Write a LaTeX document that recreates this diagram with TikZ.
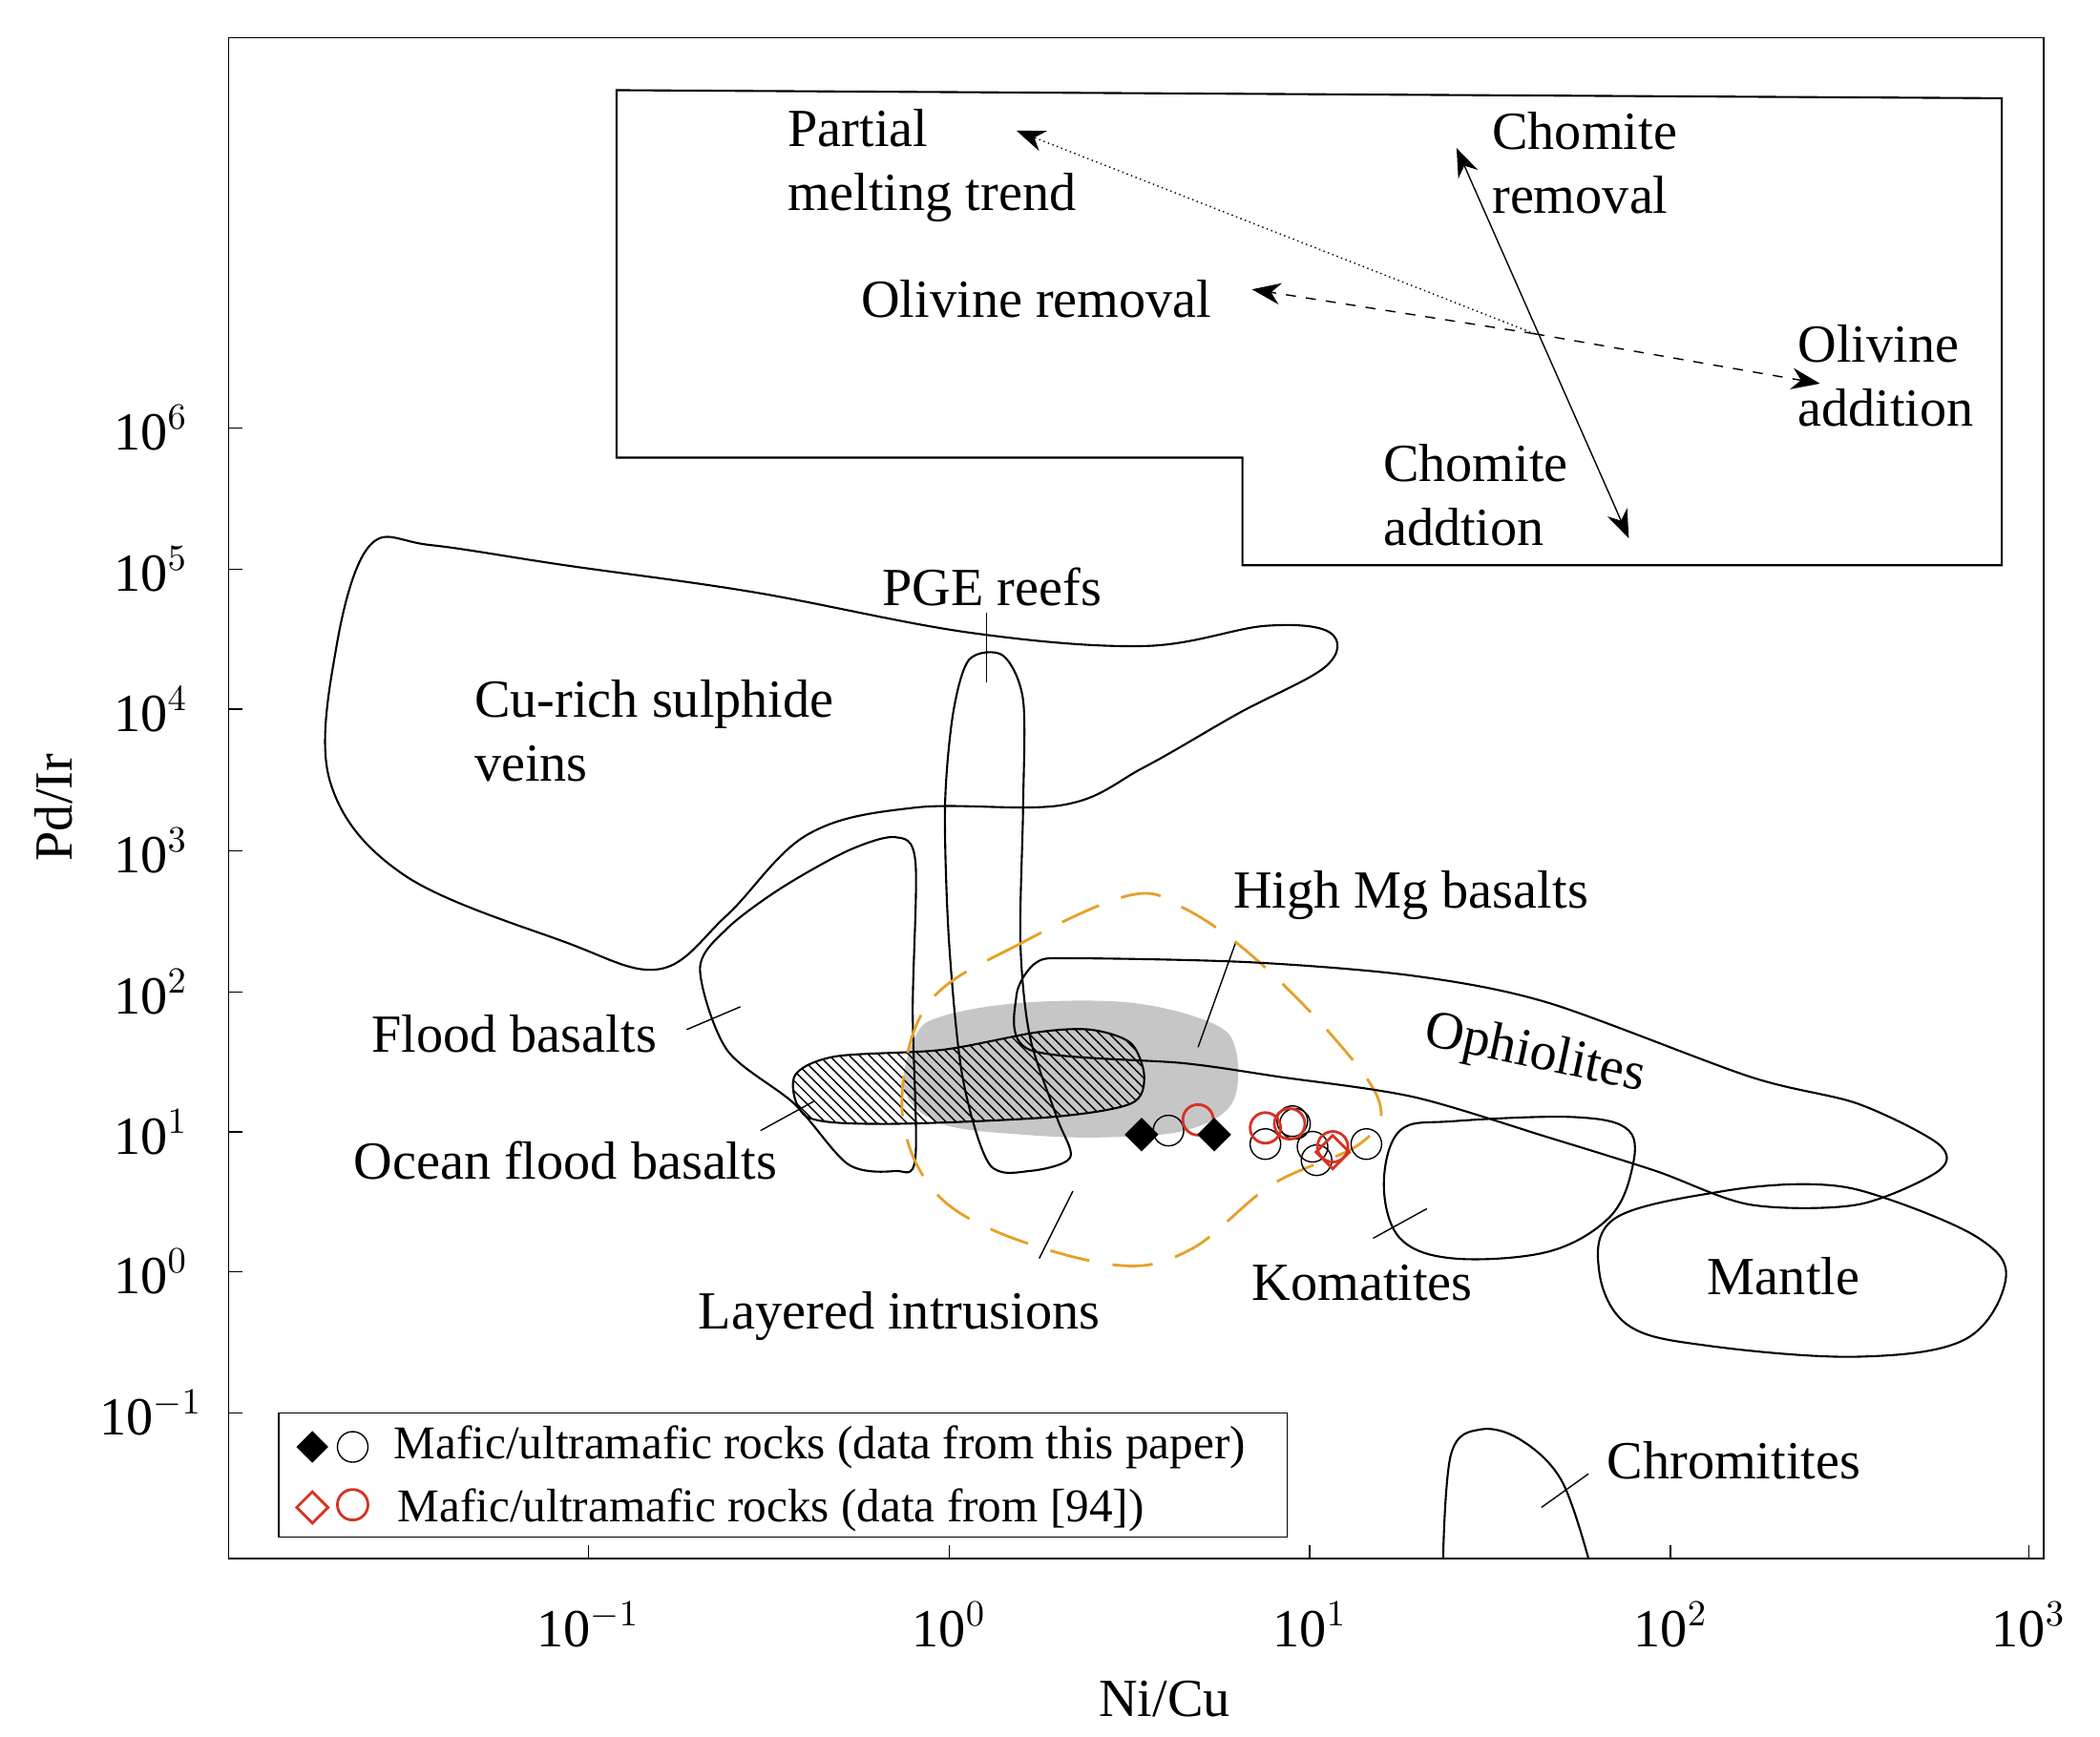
\documentclass[tikz,border=0pt]{standalone}
\usepackage{fontspec}
\setmainfont{Liberation Serif}
\usetikzlibrary{patterns,arrows.meta,shapes.geometric}
\definecolor{dashorange}{RGB}{230,160,40}
\definecolor{datared}{RGB}{215,50,35}
\begin{document}
\begin{tikzpicture}[x=0.0141cm, y=-0.0141cm,
  field/.style={draw=black, semithick},
  label/.style={font=\fontsize{16}{19}\selectfont, align=left, inner sep=0pt},
  ticklabel/.style={font=\fontsize{16}{19}\selectfont, inner sep=0pt},
  leader/.style={draw=black, thin},
  trend/.style={draw=black, thin, -{Stealth[length=3mm]}},
  blackdia/.style={diamond, fill=black, inner sep=0pt, minimum size=3.6mm},
  blackcirc/.style={circle, draw=black, thin, inner sep=0pt, minimum size=3.2mm},
  reddia/.style={diamond, draw=datared, thick, inner sep=0pt, minimum size=3.6mm},
  redcirc/.style={circle, draw=datared, thick, inner sep=0pt, minimum size=3.2mm}]
  \useasboundingbox (0,0) rectangle (1560,1290);
  % frame and ticks
  \draw[thin] (170,28) rectangle (1518,1158);
  \foreach \x/\e in {437/-1,705/0,973/1,1241/2,1507/3}{
    \draw (\x,1158) -- (\x,1148);
    \node[ticklabel] (xt\x) at (\x,1207) {10$^{\e}$};
  }
  \foreach \y/\e in {318/6,423/5,527/4,632/3,737/2,841/1,945/0,1050/-1}{
    \draw (170,\y) -- (180,\y);
    \node[ticklabel] (yt\y) at (112,\y) {10$^{\e}$};
  }
  \node[ticklabel, rotate=90] (ylab) at (40,600) {Pd/Ir};
  \node[ticklabel] (xlab) at (865,1262) {Ni/Cu};
  % upper trend box
  \draw[field] (458,67) -- (1487,73) -- (1487,420) -- (923,420) -- (923,340) -- (458,340) -- cycle;
  \coordinate (c) at (1140,248);
  \coordinate (pm) at (755,97);
  \coordinate (or) at (930,215);
  \coordinate (oa) at (1352,285);
  \coordinate (cr) at (1082,110);
  \coordinate (ca) at (1210,400);
  \draw[trend, densely dotted] (c) -- (pm);
  \draw[trend, dashed] (c) -- (or);
  \draw[trend, dashed] (c) -- (oa);
  \draw[trend, {Stealth[length=3mm]}-{Stealth[length=3mm]}] (cr) -- (ca);
  \node[label, anchor=west] (pmt) at (585,123) {Partial\\melting trend};
  \node[label] (ort) at (770,222) {Olivine removal};
  \node[label, anchor=west] (crt) at (1108,121) {Chomite\\removal};
  \node[label, anchor=west] (oat) at (1335,279) {Olivine\\addition};
  \node[label, anchor=west] (cat) at (1027,368) {Chomite\\addtion};
  % fields
  \draw[field] plot[smooth cycle, tension=0.6] coordinates {(275,405) (250,480) (245,580) (300,650) (420,700) (490,720) (540,680) (600,620) (680,600) (790,598) (850,570) (920,530) (985,495) (988,470) (940,465) (850,480) (720,470) (560,440) (420,420) (320,405)};
  \node[label, anchor=west] (cu) at (352,543) {Cu-rich sulphide\\veins};
  \fill[gray!45] plot[smooth cycle, tension=0.6] coordinates {(680,770) (700,755) (760,745) (840,745) (900,760) (918,780) (915,820) (880,840) (820,845) (760,843) (700,835) (672,810)};
  \draw[field] plot[smooth cycle, tension=0.5] coordinates {(720,490) (708,530) (702,600) (705,700) (715,800) (735,865) (765,870) (795,860) (785,830) (765,770) (758,700) (760,600) (760,520) (745,487)};
  \node[label] (pge) at (737,436) {PGE reefs};
  \draw[leader] (733,455) -- (733,507);
  \draw[field] plot[smooth cycle, tension=0.5] coordinates {(540,690) (520,720) (540,780) (590,820) (630,865) (665,870) (680,860) (678,750) (680,640) (665,622) (630,632) (580,660)};
  \node[label] (fb) at (382,768) {Flood basalts};
  \draw[leader] (510,765) -- (550,748);
  \draw[field, pattern=north west lines] plot[smooth cycle, tension=0.5] coordinates {(590,800) (600,830) (660,835) (780,830) (840,820) (850,800) (840,775) (810,765) (770,767) (700,780) (620,785)};
  \node[label] (ofb) at (420,862) {Ocean flood basalts};
  \draw[leader] (565,840) -- (605,818);
  \node[label] (hmg) at (1048,665) {High Mg basalts};
  \draw[leader] (890,778) -- (918,700);
  \draw[dashorange, thick, dash pattern=on 12pt off 7pt] plot[smooth cycle, tension=0.6] coordinates {(840,665) (760,700) (690,745) (670,820) (690,880) (740,915) (830,940) (885,928) (945,880) (1010,850) (1025,820) (990,770) (930,710) (880,675)};
  \node[label] (li) at (668,978) {Layered intrusions};
  \draw[leader] (772,935) -- (797,885);
  \draw[field] plot[smooth cycle, tension=0.5] coordinates {(770,715) (755,740) (765,780) (880,790) (950,800) (1050,815) (1150,845) (1230,870) (1300,895) (1380,895) (1440,870) (1440,850) (1380,820) (1300,800) (1150,745) (1050,725) (930,715) (800,712)};
  \node[label, rotate=-12] (oph) at (1140,784) {Ophiolites};
  \draw[field] plot[smooth cycle, tension=0.6] coordinates {(1040,840) (1028,880) (1040,920) (1080,935) (1150,930) (1195,905) (1212,870) (1210,840) (1170,830) (1080,833)};
  \node[label] (kom) at (1012,953) {Komatites};
  \draw[leader] (1020,920) -- (1060,898);
  \draw[field] plot[smooth cycle, tension=0.6] coordinates {(1200,905) (1188,945) (1210,985) (1270,1000) (1380,1008) (1460,995) (1490,950) (1470,920) (1400,890) (1350,880) (1280,885)};
  \node[label] (man) at (1325,948) {Mantle};
  \draw[field] plot[smooth, tension=0.6] coordinates {(1072,1158) (1078,1080) (1100,1062) (1130,1070) (1160,1100) (1180,1158)};
  \node[label] (chr) at (1288,1085) {Chromitites};
  \draw[leader] (1145,1120) -- (1180,1095);
  % data
  \foreach \x/\y [count=\i] in {868/840,940/850,962/835,975/852,978/862,1015/850,960/833}
    \node[blackcirc] (bc\i) at (\x,\y) {};
  \foreach \x/\y [count=\i] in {890/832,940/838,958/835,990/852}
    \node[redcirc] (rc\i) at (\x,\y) {};
  \node[reddia] (rd1) at (990,856) {};
  \node[blackdia] (bd1) at (848,843) {};
  \node[blackdia] (bd2) at (902,843) {};
  % legend
  \draw[fill=white, thin] (207,1050) rectangle (956,1142);
  \node[blackdia, minimum size=3.4mm] (lbd) at (232,1075) {};
  \node[blackcirc] (lbc) at (262,1075) {};
  \node[reddia, minimum size=3.4mm] (lrd) at (232,1120) {};
  \node[redcirc] (lrc) at (262,1118) {};
  \node[label, anchor=west, font=\fontsize{14}{17}\selectfont] (l1) at (292,1075) {Mafic/ultramafic rocks (data from this paper)};
  \node[label, anchor=west, font=\fontsize{14}{17}\selectfont] (l2) at (295,1122) {Mafic/ultramafic rocks (data from [94])};
\end{tikzpicture}
\end{document}
